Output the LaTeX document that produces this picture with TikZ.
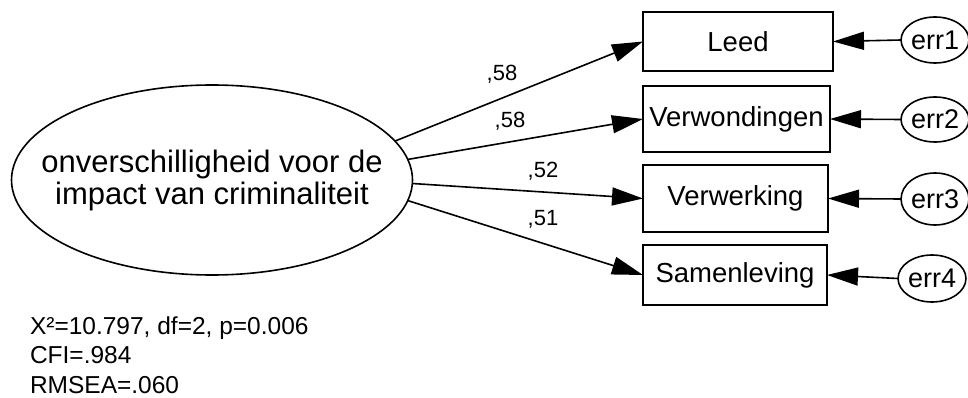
\documentclass[tikz,border=0pt]{standalone}
\usepackage{fontspec}
\setmainfont{Liberation Sans}
\usetikzlibrary{shapes.geometric,arrows.meta}
\begin{document}
\begin{tikzpicture}[x=1pt,y=-1pt,
  every node/.style={inner sep=0pt,outer sep=0pt},
  latent/.style={ellipse,draw,line width=1.6pt,fill=white},
  obsbox/.style={rectangle,draw,line width=1.6pt,fill=white,font=\fontsize{27.5}{33}\selectfont},
  errnode/.style={ellipse,draw,line width=1.6pt,fill=white,font=\fontsize{27}{32}\selectfont},
  path/.style={line width=1.6pt,-{Triangle[length=31pt,width=18pt]}},
  coef/.style={font=\fontsize{22}{26}\selectfont},
  fit/.style={anchor=base west,font=\fontsize{24.5}{29}\selectfont}]
\useasboundingbox (0,0) rectangle (968,398);
\node[latent,minimum width=401pt,minimum height=190pt] (main) at (212,180) {};
\node[align=center,font=\fontsize{31}{32}\selectfont] (maintext) at (main.center)
  {onverschilligheid voor de\\impact van criminaliteit};
\node[obsbox,minimum width=190pt,minimum height=59pt] (leed) at (738,41.5) {Leed};
\node[obsbox,minimum width=187pt,minimum height=66pt] (verw) at (736.5,119) {Verwondingen};
\node[obsbox,minimum width=185pt,minimum height=67pt] (verk) at (735.5,198.5) {Verwerking};
\node[obsbox,minimum width=184pt,minimum height=60pt] (samen) at (735,275) {Samenleving};
\node[errnode,minimum width=60pt,minimum height=46pt] (e1) at (935,40) {err1};
\node[errnode,minimum width=60pt,minimum height=45pt] (e2) at (935,119.5) {err2};
\node[errnode,minimum width=62pt,minimum height=52pt] (e3) at (935,199) {err3};
\node[errnode,minimum width=62pt,minimum height=47pt] (e4) at (932,278.5) {err4};
\draw[path] (main.12) -- (leed.west);
\draw[path] (main.6) -- (verw.west);
\draw[path] (main.-1) -- (verk.west);
\draw[path] (main.-6) -- (samen.west);
\draw[path] (e1.west) -- (leed.east);
\draw[path] (e2.west) -- (verw.east);
\draw[path] (e3.west) -- (verk.east);
\draw[path] (e4.west) -- (samen.east);
\node[coef] (c1) at (502,74) {,58};
\node[coef] (c2) at (510,121) {,58};
\node[coef] (c3) at (543,171) {,52};
\node[coef] (c4) at (543,219) {,51};
\node[fit] (f1) at (30,334) {X²=10.797, df=2, p=0.006};
\node[fit] (f2) at (30,363) {CFI=.984};
\node[fit] (f3) at (30,393) {RMSEA=.060};
\end{tikzpicture}
\end{document}
